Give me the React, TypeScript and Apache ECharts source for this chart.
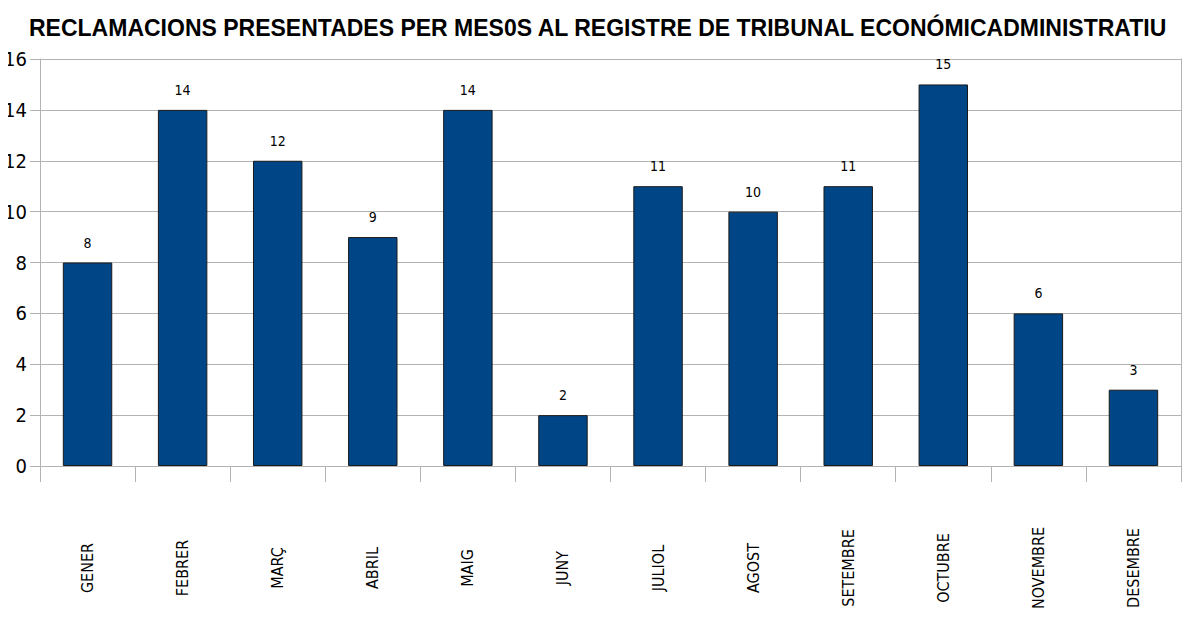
import React, { useEffect, useRef } from "react";
import * as echarts from "echarts";

const titleText =
  "RECLAMACIONS PRESENTADES PER MES0S AL REGISTRE DE TRIBUNAL ECONÓMICADMINISTRATIU";
const months = [
  "GENER",
  "FEBRER",
  "MARÇ",
  "ABRIL",
  "MAIG",
  "JUNY",
  "JULIOL",
  "AGOST",
  "SETEMBRE",
  "OCTUBRE",
  "NOVEMBRE",
  "DESEMBRE",
];
const reclamacions = [8, 14, 12, 9, 14, 2, 11, 10, 11, 15, 6, 3];
const yMin = 0;
const yMax = 16;
const yStep = 2;

const narrow = "'Liberation Sans Narrow', 'DejaVu Sans Condensed', sans-serif";

export default function App() {
  const ref = useRef<HTMLDivElement>(null);
  useEffect(() => {
    if (!ref.current) return;
    const chart = echarts.init(ref.current, null, { renderer: "svg" });
    chart.setOption({
      animation: false,
      backgroundColor: "#ffffff",
      title: {
        text: titleText,
        left: 24,
        top: 11,
        textStyle: {
          fontFamily: "'Liberation Sans', Arial, sans-serif",
          fontWeight: "bold",
          fontSize: 23,
          color: "#000000",
        },
      },
      grid: { left: 40, right: 19, top: 59, bottom: 169 },
      xAxis: {
        type: "category",
        data: months,
        boundaryGap: true,
        axisLine: { show: true, lineStyle: { color: "#b3b3b3", width: 1 } },
        axisTick: { show: true, length: 16, lineStyle: { color: "#b3b3b3" } },
        axisLabel: {
          rotate: 90,
          align: "center",
          verticalAlign: "middle",
          margin: 102,
          fontFamily: narrow,
          fontSize: 16,
          color: "#000000",
          interval: 0,
        },
        splitLine: { show: false },
      },
      yAxis: [
        {
          type: "value",
          min: yMin,
          max: yMax,
          interval: yStep,
          axisLine: { show: true, lineStyle: { color: "#b3b3b3" } },
          axisTick: { show: true, length: 10, lineStyle: { color: "#b3b3b3" } },
          axisLabel: {
            margin: 13,
            fontFamily: narrow,
            fontSize: 20,
            color: "#000000",
          },
          splitLine: { show: true, lineStyle: { color: "#b3b3b3", width: 1 } },
        },
        {
          type: "value",
          position: "right",
          min: yMin,
          max: yMax,
          interval: yStep,
          axisLine: { show: true, lineStyle: { color: "#b3b3b3" } },
          axisTick: { show: false },
          axisLabel: { show: false },
          splitLine: { show: false },
        },
      ],
      series: [
        {
          type: "bar",
          data: reclamacions,
          barWidth: "52%",
          itemStyle: {
            color: "#004586",
            borderColor: "#1a1a1a",
            borderWidth: 1,
          },
          label: {
            show: true,
            position: "top",
            distance: 13,
            fontFamily: narrow,
            fontSize: 14,
            color: "#000000",
          },
        },
      ],
    });
    return () => chart.dispose();
  }, []);
  return <div ref={ref} style={{ width: 1200, height: 635, margin: -8 }} />;
}
